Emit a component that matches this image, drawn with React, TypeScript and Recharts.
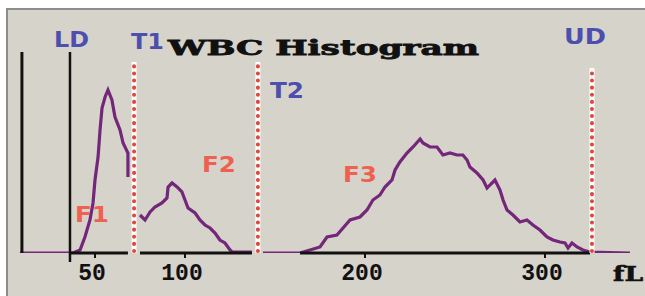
import React from "react"
import { LineChart, Line, XAxis, YAxis, ReferenceLine } from "recharts"

// cell size (fL) and count for each stretch of the histogram curve
const f1Fl = [8.3, 37.8, 41.7, 44.4, 47.2, 48.9, 50, 51.7, 52.8, 53.9, 55.6, 57.2, 59.4, 61.1, 63.9, 65.6, 68.3, 68.3]
const f1Count = [0, 0, 3, 16, 33, 50, 73, 96, 123, 145, 156, 163, 153, 136, 123, 110, 100, 76]

const f2Fl = [75, 77.8, 80.6, 83.3, 87.2, 90, 90.6, 92.8, 95.6, 98.3, 100, 101.7, 105.6, 108.3, 111.1, 113.9, 116.7, 119.4, 122.2, 125, 126.1, 137.2]
const f2Count = [38, 33, 41, 46, 50, 55, 66, 70, 66, 61, 53, 45, 40, 33, 28, 25, 20, 13, 10, 3, 1, 1]

const f3Fl = [
  143.3, 163.9, 175, 178.9, 184.4, 187.8, 191.7, 197.2, 201.1, 204.4, 208.3, 211.1, 215, 216.7, 219.4, 223.3,
  226.7, 230.6, 232.2, 236.1, 240, 243.3, 247.2, 251.1, 254.4, 256.7, 258.3, 262.2, 265.6, 267.8, 269.4, 272.2,
  275, 276.7, 278.9, 282.2, 286.1, 290, 293.3, 297.2, 301.1, 304.4, 308.3, 311.1, 312.8, 315, 317.8, 321.1, 325, 347.2,
]
const f3Count = [
  0, 0, 6, 16, 18, 25, 33, 36, 43, 53, 58, 66, 73, 83, 91, 100,
  106, 114, 110, 106, 106, 98, 100, 98, 98, 93, 86, 80, 73, 65, 68, 73,
  63, 53, 43, 38, 31, 33, 28, 23, 16, 13, 11, 10, 5, 10, 6, 3, 1, 0,
]

const xTicks = [50, 100, 200, 300]
const yAxisFl = 9.4
const ldFl = 36.1
const thresholdFl = [71.7, 140.5, 326.1]
const thresholdTop = [191, 191, 185]
const baselineSegments = [
  [36.1, 68.3],
  [75, 137.2],
  [163.9, 325],
]

const toPoints = (fl: number[], count: number[]) => fl.map((x, i) => ({ fl: x, count: count[i] }))

const PURPLE = "#74267a"
const BLUE = "#4d4fae"
const SALMON = "#ef6051"
const DOT_RED = "#e0473b"
const monoFont = "'Liberation Mono', 'DejaVu Sans Mono', monospace"
const serifFont = "'DejaVu Serif', 'Liberation Serif', serif"
const sansFont = "'DejaVu Sans', Verdana, sans-serif"

const SizeTick = (props: any) => {
  const { x, y, payload } = props
  return (
    <text
      x={x - 3}
      y={y + 20}
      textAnchor="middle"
      fontFamily={monoFont}
      fontWeight="bold"
      fontSize={23}
      fill="#111"
    >
      {payload.value}
    </text>
  )
}

export default function App() {
  return (
    <div style={{ position: "fixed", left: 0, top: 0, width: 645, height: 296, background: "#fff" }}>
      <div
        style={{
          position: "absolute",
          left: 6,
          top: 8,
          right: 0,
          bottom: 0,
          background: "#d6d3cb",
          borderLeft: "2px solid #8c8c8c",
          borderTop: "2px solid #8c8c8c",
        }}
      />
      <div style={{ position: "absolute", left: 0, top: 0 }}>
        <LineChart width={645} height={296} margin={{ top: 52, right: 10, bottom: 13, left: 5 }}>
          <XAxis
            type="number"
            dataKey="fl"
            domain={[0, 350]}
            ticks={xTicks}
            allowDataOverflow
            axisLine={false}
            tickLine={{ stroke: "#111", strokeWidth: 2 }}
            tickSize={5}
            height={30}
            tick={<SizeTick />}
          />
          <YAxis type="number" domain={[0, 201]} hide allowDataOverflow />

          <Line data={toPoints(f1Fl, f1Count)} dataKey="count" type="linear" stroke={PURPLE} strokeWidth={3.2} dot={false} isAnimationActive={false} />
          <Line data={toPoints(f2Fl, f2Count)} dataKey="count" type="linear" stroke={PURPLE} strokeWidth={3.2} dot={false} isAnimationActive={false} />
          <Line data={toPoints(f3Fl, f3Count)} dataKey="count" type="linear" stroke={PURPLE} strokeWidth={3.2} dot={false} isAnimationActive={false} />

          {baselineSegments.map(([a, b], i) => (
            <ReferenceLine key={`base${i}`} segment={[{ x: a, y: 0 }, { x: b, y: 0 }]} stroke="#111" strokeWidth={3} ifOverflow="visible" />
          ))}

          <ReferenceLine segment={[{ x: yAxisFl, y: 0 }, { x: yAxisFl, y: 201 }]} stroke="#111" strokeWidth={3} ifOverflow="visible" />
          <ReferenceLine segment={[{ x: ldFl, y: -9 }, { x: ldFl, y: 201 }]} stroke="#111" strokeWidth={2.5} ifOverflow="visible" />

          {thresholdFl.map((fl, i) => (
            <ReferenceLine key={`w${i}`} segment={[{ x: fl, y: 0 }, { x: fl, y: thresholdTop[i] }]} stroke="#fff" strokeWidth={5} ifOverflow="visible" />
          ))}
          {thresholdFl.map((fl, i) => (
            <ReferenceLine
              key={`r${i}`}
              segment={[{ x: fl, y: 2 }, { x: fl, y: thresholdTop[i] - 2 }]}
              stroke={DOT_RED}
              strokeWidth={4}
              strokeDasharray="0.1 7"
              strokeLinecap="round"
              ifOverflow="visible"
            />
          ))}

          <text x={613} y={281} fontFamily={serifFont} fontWeight="bold" fontSize={20} fill="#111" stroke="#111" strokeWidth={0.6} textLength={30} lengthAdjust="spacingAndGlyphs">
            fL
          </text>
          <text x={168} y={55} fontFamily={serifFont} fontWeight="bold" fontSize={20} fill="#111" stroke="#111" strokeWidth={0.8} textLength={311} lengthAdjust="spacingAndGlyphs">
            WBC Histogram
          </text>

          <text x={54} y={47} fontFamily={sansFont} fontWeight="bold" fontSize={21} fill={BLUE} textLength={35} lengthAdjust="spacingAndGlyphs">LD</text>
          <text x={131} y={49} fontFamily={sansFont} fontWeight="bold" fontSize={21} fill={BLUE} textLength={33} lengthAdjust="spacingAndGlyphs">T1</text>
          <text x={270} y={98} fontFamily={sansFont} fontWeight="bold" fontSize={21} fill={BLUE} textLength={34} lengthAdjust="spacingAndGlyphs">T2</text>
          <text x={564} y={44} fontFamily={sansFont} fontWeight="bold" fontSize={21} fill={BLUE} textLength={42} lengthAdjust="spacingAndGlyphs">UD</text>

          <text x={75} y={222} fontFamily={sansFont} fontWeight="bold" fontSize={21} fill={SALMON} textLength={34} lengthAdjust="spacingAndGlyphs">F1</text>
          <text x={202} y={172} fontFamily={sansFont} fontWeight="bold" fontSize={21} fill={SALMON} textLength={34} lengthAdjust="spacingAndGlyphs">F2</text>
          <text x={343} y={182} fontFamily={sansFont} fontWeight="bold" fontSize={21} fill={SALMON} textLength={34} lengthAdjust="spacingAndGlyphs">F3</text>
        </LineChart>
      </div>
    </div>
  )
}
